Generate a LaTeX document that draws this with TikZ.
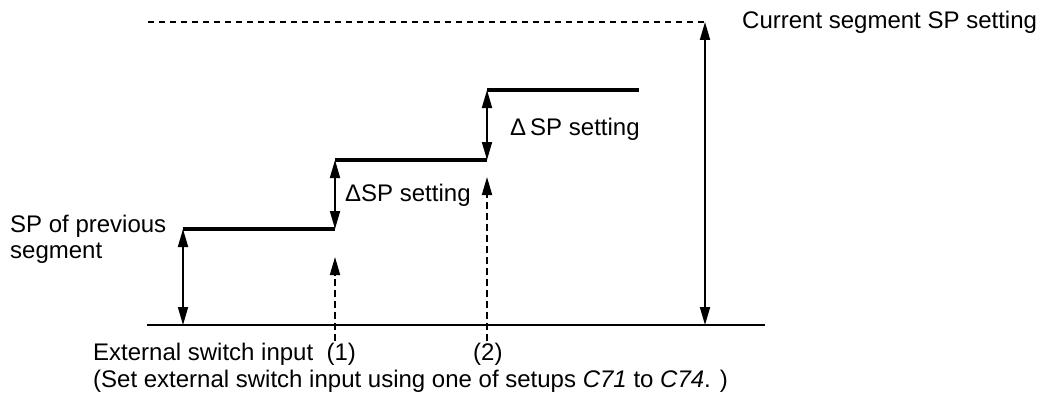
\documentclass[tikz,border=0pt]{standalone}
\usepackage{fontspec}
\setmainfont{Liberation Sans}
\usetikzlibrary{arrows.meta}
\begin{document}
\begin{tikzpicture}[x=1pt,y=-1pt,
  lbl/.style={inner sep=0pt,font=\fontsize{24}{26}\selectfont},
  axisline/.style={line width=2pt},
  stepline/.style={line width=3.5pt},
  dimarrow/.style={line width=1.8pt,{Triangle[length=18pt,width=10pt]}-{Triangle[length=18pt,width=10pt]}},
  trigarrow/.style={line width=1.8pt,dash pattern=on 7pt off 4pt,-{Triangle[length=18pt,width=10pt]}},
  refline/.style={line width=1.5pt,dash pattern=on 6pt off 5pt}]
\useasboundingbox (0,0) rectangle (1043,396);
% coordinates
\coordinate (b0) at (147,325);
\coordinate (b1) at (765,325);
\coordinate (s0) at (183,229);
\coordinate (s1) at (335,229);
\coordinate (s2) at (335,160);
\coordinate (s3) at (487,160);
\coordinate (s4) at (487,90);
\coordinate (s5) at (639,90);
\coordinate (p0) at (183,325);
\coordinate (t1b) at (335,341);
\coordinate (t1t) at (335,257);
\coordinate (t2b) at (487,341);
\coordinate (t2t) at (487,177);
\coordinate (r0) at (148,22);
\coordinate (r1) at (705,22);
\coordinate (r1b) at (705,325);
% axis and steps
\draw[axisline] (b0) -- (b1);
\draw[stepline] (s0) -- (s1);
\draw[stepline] (s2) -- (s3);
\draw[stepline] (s4) -- (s5);
% dimension arrows
\draw[dimarrow] (p0) -- (s0);
\draw[dimarrow] (s1) -- (s2);
\draw[dimarrow] (s3) -- (s4);
\draw[dimarrow] (r1b) -- (r1);
% trigger arrows
\draw[trigarrow] (t1b) -- (t1t);
\draw[trigarrow] (t2b) -- (t2t);
% reference line
\draw[refline] (r0) -- (r1);
% labels
\node[lbl,anchor=west] (cur) at (742,22) {Current segment SP setting};
\node[lbl,anchor=west,align=left] (prev) at (10,239) {SP of previous\\segment};
\node[lbl,anchor=west] (d1) at (345,195) {ΔSP setting};
\node[lbl,anchor=west] (d2) at (510,129) {Δ\,SP setting};
\node[lbl,anchor=west] (ext) at (93,354) {External switch input\ \ (1)};
\node[lbl,anchor=west] (n2) at (473,354) {(2)};
\node[lbl,anchor=west] (note) at (93,381) {(Set external switch input using one of setups \textit{C71} to \textit{C74}. )};
\end{tikzpicture}
\end{document}
